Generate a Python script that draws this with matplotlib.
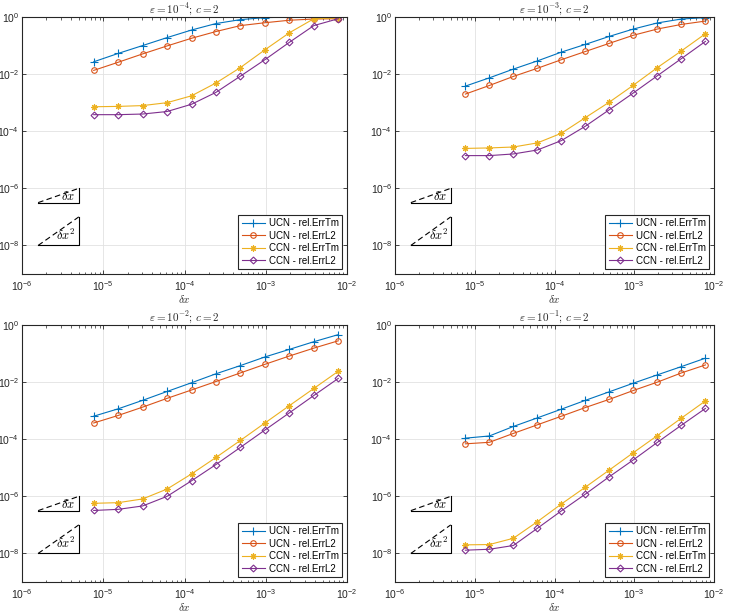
import numpy as np
import matplotlib
matplotlib.use("Agg")
import matplotlib.pyplot as plt
from matplotlib.ticker import LogLocator, NullFormatter

plt.rcParams["font.family"] = ["Liberation Sans", "DejaVu Sans"]
plt.rcParams["axes.linewidth"] = 0.8

# grid sizes (dx = 1/128 ... 1/131072)
dx = [7.63e-6, 1.526e-5, 3.052e-5, 6.104e-5, 1.221e-4, 2.441e-4,
      4.883e-4, 9.766e-4, 1.953e-3, 3.906e-3, 7.8125e-3]

eps_labels = ["-4", "-3", "-2", "-1"]

# eps = 1e-4
ucn_tm_4 = [2.7e-2, 5.3e-2, 0.10, 0.19, 0.35, 0.59, 0.81, 0.95, 0.99, 1.0, 1.0]
ucn_l2_4 = [1.35e-2, 2.6e-2, 5.1e-2, 9.7e-2, 0.18, 0.31, 0.50, 0.63, 0.77, 0.85, 0.87]
ccn_tm_4 = [7.2e-4, 7.4e-4, 7.9e-4, 1.0e-3, 1.74e-3, 4.9e-3, 1.7e-2, 7.1e-2, 0.28, 0.87, 0.92]
ccn_l2_4 = [3.8e-4, 3.8e-4, 4.0e-4, 4.9e-4, 8.8e-4, 2.3e-3, 8.5e-3, 3.2e-2, 0.13, 0.50, 0.87]

# eps = 1e-3
ucn_tm_3 = [3.8e-3, 7.4e-3, 1.5e-2, 2.9e-2, 5.9e-2, 0.11, 0.21, 0.38, 0.62, 0.85, 0.95]
ucn_l2_3 = [2.0e-3, 4.0e-3, 8.3e-3, 1.6e-2, 3.2e-2, 6.2e-2, 0.12, 0.23, 0.38, 0.55, 0.72]
ccn_tm_3 = [2.5e-5, 2.6e-5, 2.8e-5, 3.9e-5, 8.5e-5, 3.0e-4, 1.05e-3, 4.1e-3, 1.7e-2, 6.5e-2, 0.26]
ccn_l2_3 = [1.4e-5, 1.4e-5, 1.6e-5, 2.2e-5, 4.7e-5, 1.5e-4, 5.7e-4, 2.2e-3, 8.8e-3, 3.5e-2, 0.14]

# eps = 1e-2
ucn_tm_2 = [6.4e-4, 1.16e-3, 2.3e-3, 4.7e-3, 9.5e-3, 1.96e-2, 3.8e-2, 7.6e-2, 0.14, 0.26, 0.46]
ucn_l2_2 = [3.7e-4, 6.8e-4, 1.33e-3, 2.7e-3, 5.3e-3, 1.05e-2, 2.1e-2, 4.2e-2, 8.2e-2, 0.155, 0.28]
ccn_tm_2 = [5.7e-7, 6.0e-7, 8.1e-7, 1.8e-6, 6.1e-6, 2.3e-5, 9.1e-5, 3.7e-4, 1.5e-3, 6.0e-3, 2.4e-2]
ccn_l2_2 = [3.2e-7, 3.5e-7, 4.6e-7, 1.0e-6, 3.5e-6, 1.3e-5, 5.2e-5, 2.1e-4, 8.4e-4, 3.4e-3, 1.35e-2]

# eps = 1e-1
ucn_tm_1 = [1.09e-4, 1.3e-4, 2.8e-4, 5.6e-4, 1.13e-3, 2.3e-3, 4.6e-3, 9.2e-3, 1.8e-2, 3.5e-2, 6.9e-2]
ucn_l2_1 = [6.9e-5, 7.8e-5, 1.6e-4, 3.2e-4, 6.4e-4, 1.29e-3, 2.5e-3, 5.1e-3, 1.0e-2, 2.1e-2, 4.0e-2]
ccn_tm_1 = [2.0e-8, 2.05e-8, 3.4e-8, 1.3e-7, 5.4e-7, 2.1e-6, 8.4e-6, 3.4e-5, 1.35e-4, 5.5e-4, 2.2e-3]
ccn_l2_1 = [1.3e-8, 1.4e-8, 1.9e-8, 7.6e-8, 3.1e-7, 1.2e-6, 4.9e-6, 1.9e-5, 7.8e-5, 3.1e-4, 1.2e-3]

panels = [
    (ucn_tm_4, ucn_l2_4, ccn_tm_4, ccn_l2_4),
    (ucn_tm_3, ucn_l2_3, ccn_tm_3, ccn_l2_3),
    (ucn_tm_2, ucn_l2_2, ccn_tm_2, ccn_l2_2),
    (ucn_tm_1, ucn_l2_1, ccn_tm_1, ccn_l2_1),
]

names = ["UCN - rel.ErrTm", "UCN - rel.ErrL2", "CCN - rel.ErrTm", "CCN - rel.ErrL2"]
colors = ["#0072BD", "#D95319", "#EDB120", "#7E2F8E"]
markers = ["+", "o", (8, 2, 0), "D"]
msizes = [5.5, 4, 4.5, 3.5]

dark = "#262626"

fig = plt.figure(figsize=(7.31, 6.15), dpi=100)
boxes = [
    [22 / 731, 1 - 274 / 615, 325 / 731, 257 / 615],
    [395 / 731, 1 - 274 / 615, 319 / 731, 257 / 615],
    [22 / 731, 1 - 582 / 615, 325 / 731, 257 / 615],
    [395 / 731, 1 - 582 / 615, 319 / 731, 257 / 615],
]

for i in range(4):
    ax = fig.add_axes(boxes[i])
    for j in range(4):
        ax.loglog(dx, panels[i][j], color=colors[j], marker=markers[j],
                  markersize=msizes[j], markerfacecolor="none",
                  markeredgewidth=0.8, linewidth=0.8, label=names[j])

    # slope triangles
    ax.plot([1.58e-6, 5e-6], [3.16e-7, 1e-6], "--", color="k", lw=0.8, dashes=(5, 3))
    ax.plot([1.58e-6, 5e-6, 5e-6], [3.16e-7, 3.16e-7, 1e-6], "-", color="k", lw=0.8)
    ax.text(3.7e-6, 5.2e-7, r"$\delta x$", math_fontfamily="cm", fontsize=9,
            ha="center", va="center")
    ax.plot([1.58e-6, 5e-6], [1e-8, 1e-7], "--", color="k", lw=0.8, dashes=(5, 3))
    ax.plot([1.58e-6, 5e-6, 5e-6], [1e-8, 1e-8, 1e-7], "-", color="k", lw=0.8)
    ax.text(3.5e-6, 2.2e-8, r"$\delta x^2$", math_fontfamily="cm", fontsize=9,
            ha="center", va="center")

    ax.set_xlim(1e-6, 1e-2)
    ax.set_ylim(1e-9, 1e0)
    ax.set_xticks([1e-6, 1e-5, 1e-4, 1e-3, 1e-2])
    ax.set_yticks([1e-8, 1e-6, 1e-4, 1e-2, 1e0])
    ax.xaxis.set_minor_locator(LogLocator(base=10, subs=np.arange(2, 10), numticks=20))
    ax.xaxis.set_minor_formatter(NullFormatter())
    ax.yaxis.set_minor_locator(plt.NullLocator())
    ax.grid(True, which="major", color="#e2e2e2", linewidth=0.6)
    ax.tick_params(which="both", direction="in", top=True, right=True,
                   colors=dark, labelsize=7.5, labelcolor=dark)
    ax.tick_params(which="major", length=3, width=0.6)
    ax.tick_params(which="minor", length=1.8, width=0.5)
    ax.tick_params(axis="x", pad=4)
    ax.tick_params(axis="y", pad=2)
    for s in ax.spines.values():
        s.set_color(dark)

    ax.set_title(r"$\varepsilon = 10^{" + eps_labels[i] + r"};\, c = 2$",
                 math_fontfamily="cm", fontsize=8, pad=3, color=dark)
    ax.set_xlabel(r"$\delta x$", math_fontfamily="cm", fontsize=8,
                  labelpad=0, color=dark)

    leg = ax.legend(loc="lower right", fontsize=7, fancybox=False,
                    framealpha=1, edgecolor=dark, handlelength=2.4,
                    labelspacing=0.25, borderpad=0.35, borderaxespad=0.5,
                    handletextpad=0.4)
    leg.get_frame().set_linewidth(0.8)

fig.savefig("out.png", dpi=100)
